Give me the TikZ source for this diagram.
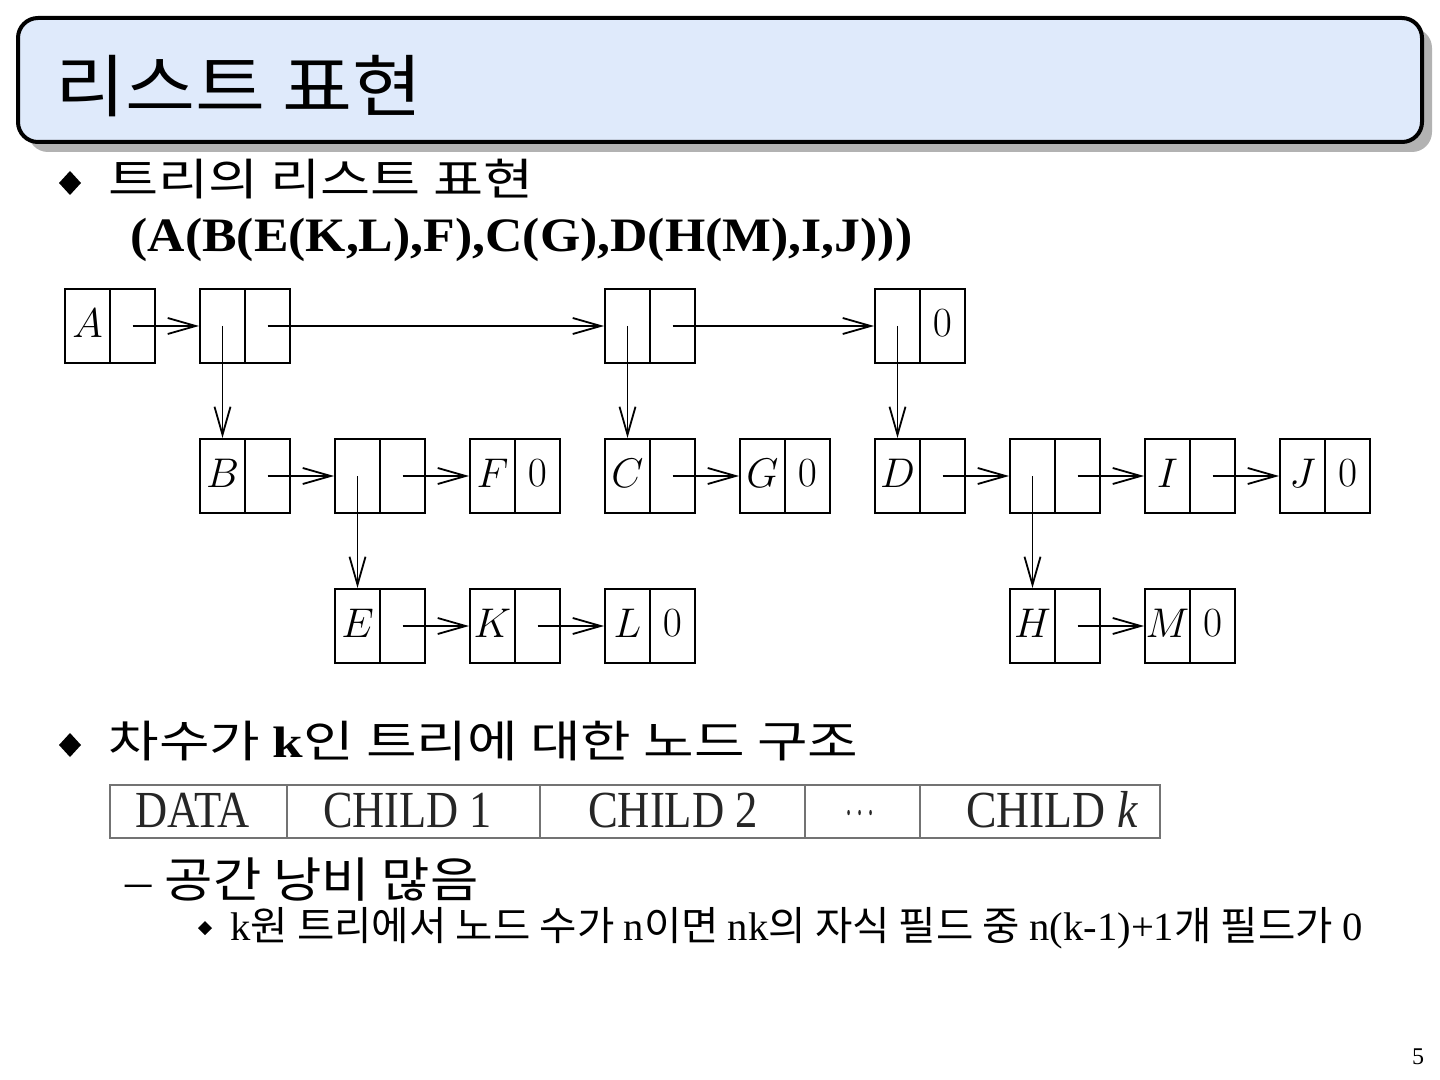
\documentclass[tikz,border=0pt]{standalone}
\usepackage{fontspec}
\usepackage{graphicx}
\setmainfont{Liberation Serif}
\newfontfamily\kr{Noto Sans CJK KR}
\usetikzlibrary{arrows.meta}
\definecolor{hdrfill}{RGB}{223,234,251}
\definecolor{shadowc}{RGB}{178,178,178}
\newcommand\fitw[2]{\resizebox{#1}{\height}{#2}}
\newcommand\lcell[5]{%
  \node[cellbox, anchor=north west] (#1l) at (#2,#3) {\raisebox{2.5pt}{#4}};
  \node[cellbox, anchor=north west] (#1r) at ({#2+45},#3) {\raisebox{2.5pt}{#5}};}
\tikzset{
  cellbox/.style={draw, line width=1pt, minimum width=22.5pt, minimum height=37pt,
    inner sep=0pt, font=\fontsize{22}{26}\selectfont},
  arr/.style={line width=0.9pt, -{Straight Barb[length=14pt,width=8pt,line width=0.9pt]}},
  tline/.style={draw=black!55, line width=1pt},
  ttext/.style={inner sep=0pt, anchor=base, font=\fontsize{26}{30}\selectfont, text=black!85},
}
\begin{document}
\begin{tikzpicture}[x=0.5pt,y=-0.5pt]
\useasboundingbox (0,0) rectangle (1440,1080);
\fill[white] (0,0) rectangle (1440,1080);
% header
\fill[shadowc, rounded corners=10pt] (28,28) rectangle (1432,152);
\draw[line width=2pt, fill=hdrfill, rounded corners=10pt] (18,18) rectangle (1422,142);
\node[anchor=west, inner sep=0pt] (title) at (55,86) {\fitw{183.5pt}{\kr\fontsize{34}{40}\selectfont 리스트 표현}};
% bullet 1
\fill (59,183) -- (70,171) -- (81,183) -- (70,195) -- cycle;
\node[anchor=west, inner sep=0pt] (b1) at (108,179) {\fitw{212.5pt}{\kr\fontsize{22}{26}\selectfont 트리의 리스트 표현}};
\node[anchor=west, inner sep=0pt] (expr) at (130,240) {\fitw{391pt}{\bfseries\fontsize{24}{28}\selectfont (A(B(E(K,L),F),C(G),D(H(M),I,J)))}};
% list cells
\lcell{A}{64}{288}{$A$}{}
\lcell{P}{199}{288}{}{}
\lcell{Q}{604}{288}{}{}
\lcell{R}{874}{288}{}{$0$}
\lcell{B}{199}{438}{$B$}{}
\lcell{S}{334}{438}{}{}
\lcell{F}{469}{438}{$F$}{$0$}
\lcell{C}{604}{438}{$C$}{}
\lcell{G}{739}{438}{$G$}{$0$}
\lcell{D}{874}{438}{$D$}{}
\lcell{T}{1009}{438}{}{}
\lcell{I}{1144}{438}{$I$}{}
\lcell{J}{1279}{438}{$J$}{$0$}
\lcell{E}{334}{588}{$E$}{}
\lcell{K}{469}{588}{$K$}{}
\lcell{L}{604}{588}{$L$}{$0$}
\lcell{H}{1009}{588}{$H$}{}
\lcell{M}{1144}{588}{$M$}{$0$}
% horizontal links
\draw[arr] (Ar.center) -- (Pl.west);
\draw[arr] (Pr.center) -- (Ql.west);
\draw[arr] (Qr.center) -- (Rl.west);
\draw[arr] (Br.center) -- (Sl.west);
\draw[arr] (Sr.center) -- (Fl.west);
\draw[arr] (Cr.center) -- (Gl.west);
\draw[arr] (Dr.center) -- (Tl.west);
\draw[arr] (Tr.center) -- (Il.west);
\draw[arr] (Ir.center) -- (Jl.west);
\draw[arr] (Er.center) -- (Kl.west);
\draw[arr] (Kr.center) -- (Ll.west);
\draw[arr] (Hr.center) -- (Ml.west);
% vertical links
\draw[arr] (Pl.center) -- (Bl.north);
\draw[arr] (Ql.center) -- (Cl.north);
\draw[arr] (Rl.center) -- (Dl.north);
\draw[arr] (Sl.center) -- (El.north);
\draw[arr] (Tl.center) -- (Hl.north);
% bullet 2
\fill (59,745) -- (70,733) -- (81,745) -- (70,757) -- cycle;
\node[anchor=west, inner sep=0pt] (b2) at (108,741) {\fitw{375pt}{\fontsize{22}{26}\selectfont{\kr 차수가 }{\bfseries k}{\kr 인 트리에 대한 노드 구조}}};
% node structure table
\draw[tline] (110,785) rectangle (1160,838);
\draw[tline] (287,785) -- (287,838);
\draw[tline] (540,785) -- (540,838);
\draw[tline] (805,785) -- (805,838);
\draw[tline] (920,785) -- (920,838);
\node[ttext] (t1) at (192.5,827) {\fitw{57.5pt}{DATA}};
\node[ttext] (t2) at (407.5,827) {\fitw{84.5pt}{CHILD 1}};
\node[ttext] (t3) at (673,827) {\fitw{85pt}{CHILD 2}};
\node[ttext] (t4) at (860,825) {\fitw{15pt}{$\cdots$}};
\node[ttext] (t5) at (1052,827) {\fitw{86pt}{CHILD \textit{k}}};
% sub items
\node[anchor=west, inner sep=0pt] (s1) at (125,880) {\fitw{176.5pt}{\fontsize{24}{28}\selectfont – {\kr 공간 낭비 많음}}};
\fill (198,928) -- (205,921) -- (212,928) -- (205,935) -- cycle;
\node[anchor=west, inner sep=0pt] (s2) at (230,928) {\fitw{566pt}{\fontsize{20}{24}\selectfont k{\kr 원 트리에서 노드 수가 }n{\kr 이면 }nk{\kr 의 자식 필드 중 }n(k-1)+1{\kr 개 필드가 }0}};
\node (pg) at (1418,1057) {\fontsize{12}{14}\selectfont 5};
\end{tikzpicture}
\end{document}
